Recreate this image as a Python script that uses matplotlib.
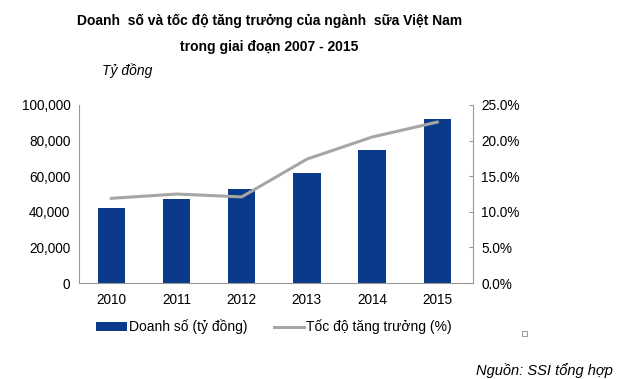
import matplotlib.pyplot as plt
from matplotlib.patches import Rectangle

plt.rcParams['font.family'] = ['Liberation Sans', 'DejaVu Sans']

years = ['2010', '2011', '2012', '2013', '2014', '2015']
doanh_so = [42000, 47200, 53000, 62000, 75000, 92000]
tang_truong = [11.9, 12.5, 12.1, 17.4, 20.5, 22.6]

fig = plt.figure(figsize=(6.3, 3.79), dpi=100)
ax = fig.add_axes([0.125, 0.253, 0.626, 0.47])
x = range(len(years))
bars = ax.bar(x, doanh_so, width=0.42, color='#0b3a8a', label='Doanh số (tỷ đồng)')
ax.set_xlim(-0.5, 5.55)
ax.set_ylim(0, 100000)
ax.set_yticks(range(0, 100001, 20000))
ax.set_yticklabels(['{:,}'.format(v) for v in range(0, 100001, 20000)])
ax.set_xticks(list(x))
ax.set_xticklabels(years)
ax.tick_params(axis='both', length=0, labelsize=9.8, pad=6)
ax.tick_params(axis='x', pad=7)
for s in ['top', 'right']:
    ax.spines[s].set_visible(False)
for s in ['left', 'bottom']:
    ax.spines[s].set_color('#999999')

ax2 = ax.twinx()
line, = ax2.plot(list(x), tang_truong, color='#a6a6a6', lw=2.2, label='Tốc độ tăng trưởng (%)')
ax2.set_ylim(0, 25)
ax2.set_yticks([0, 5, 10, 15, 20, 25])
ax2.set_yticklabels(['{:.1f}%'.format(v) for v in [0, 5, 10, 15, 20, 25]])
ax2.tick_params(axis='y', direction='in', length=3, color='#999999', labelsize=9.8, pad=6)
for s in ['top', 'left', 'bottom']:
    ax2.spines[s].set_visible(False)
ax2.spines['right'].set_color('#999999')

fig.text(0.428, 0.945, 'Doanh  số và tốc độ tăng trưởng của ngành  sữa Việt Nam',
         ha='center', va='center', fontsize=10, fontweight='bold')
fig.text(0.428, 0.875, 'trong giai đoạn 2007 - 2015',
         ha='center', va='center', fontsize=10, fontweight='bold')
fig.text(0.202, 0.815, 'Tỷ đồng', ha='center', va='center', fontsize=10, style='italic')

fig.legend([bars, line], ['Doanh số (tỷ đồng)', 'Tốc độ tăng trưởng (%)'],
           loc='center left', bbox_to_anchor=(0.133, 0.137), ncol=2, frameon=False,
           fontsize=10, handlelength=2.2, handletextpad=0.15, columnspacing=1.9)

fig.text(0.973, 0.022, 'Nguồn: SSI tổng hợp', ha='right', va='center', fontsize=10.5, style='italic')
fig.patches.append(Rectangle((0.829, 0.113), 0.008, 0.013, transform=fig.transFigure,
                             fill=False, edgecolor='#888888', lw=0.6))

fig.savefig('out.png')
